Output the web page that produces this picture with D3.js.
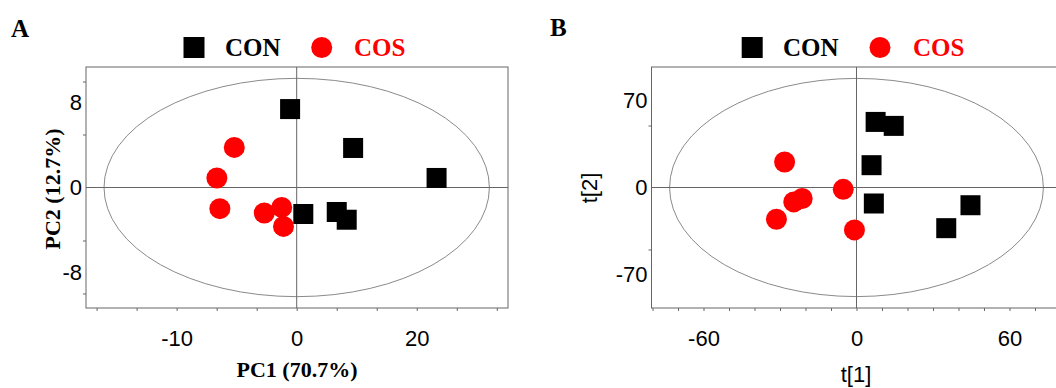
<!DOCTYPE html>
<html>
<head>
<meta charset="utf-8">
<script src="https://cdn.jsdelivr.net/npm/d3@7"></script>
<style>
  body { margin: 0; background: #fff; overflow: hidden; }
  svg { display: block; }
</style>
</head>
<body>
<svg id="chart" width="1056" height="388"></svg>
<script>
// Panel A : PCA scores
const conA = [[-1.1, 7.4], [9.4, 3.73], [23.3, 0.9], [1.1, -2.5], [6.67, -2.31], [8.33, -3.04]];
const cosA = [[-10.4, 3.78], [-13.3, 0.9], [-12.8, -2.0], [-5.4, -2.41], [-2.5, -1.88], [-2.2, -3.67]];
const xTickPosA = [-20, 0, 20];
const xTickLabelsA = ["-10", "0", "20"];
const yTickPosA = [8, 0, -8];
const yTickLabelsA = ["8", "0", "-8"];
const ellipseA = [32.1, 10.3];

// Panel B : t[1] / t[2] scores
const conB = [[7.5, 52.9], [14.6, 49.7], [5.9, 18.0], [6.8, -12.9], [44.7, -14.3], [35.2, -32.8]];
const cosB = [[-28.2, 20.6], [-5.2, -1.5], [-21.3, -8.9], [-24.6, -11.6], [-31.4, -25.6], [-0.8, -34.2]];
const xTickPosB = [-60, 0, 60];
const xTickLabelsB = ["-60", "0", "60"];
const yTickPosB = [70, 0, -70];
const yTickLabelsB = ["70", "0", "-70"];
const ellipseB = [73.3, 88];

const serif = "'Times New Roman', 'Liberation Serif', serif";
const sans = "Arial, 'Liberation Sans', sans-serif";

const svg = d3.select("#chart");

function panel(o) {
  const g = svg.append("g").attr("transform", `translate(${o.left},${o.top})`);
  const x = d3.scaleLinear().domain(o.xDomain).range([0, o.w]);
  const y = d3.scaleLinear().domain(o.yDomain).range([o.h, 0]);

  // ellipse (Hotelling T2)
  g.append("ellipse")
    .attr("cx", x(0)).attr("cy", y(0))
    .attr("rx", x(o.ell[0]) - x(0)).attr("ry", y(0) - y(o.ell[1]))
    .attr("fill", "none").attr("stroke", "#8a8a8a").attr("stroke-width", 1);

  // zero lines
  g.append("line").attr("x1", x(0)).attr("x2", x(0)).attr("y1", 0).attr("y2", o.h)
    .attr("stroke", "#666").attr("stroke-width", 1);
  g.append("line").attr("x1", 0).attr("x2", o.w).attr("y1", y(0)).attr("y2", y(0))
    .attr("stroke", "#666").attr("stroke-width", 1);

  // frame
  g.append("rect").attr("width", o.w).attr("height", o.h)
    .attr("fill", "none").attr("stroke", "#666").attr("stroke-width", 1);

  // minor ticks
  const xa = g.append("g").attr("transform", `translate(0,${o.h})`)
    .call(d3.axisBottom(x).tickValues(o.xMinor).tickSize(3).tickFormat(""));
  const ya = g.append("g")
    .call(d3.axisLeft(y).tickValues(o.yMinor).tickSize(3).tickFormat(""));
  [xa, ya].forEach(a => {
    a.select(".domain").remove();
    a.selectAll("line").attr("stroke", "#666");
  });

  // labels
  const xl = g.append("g").attr("transform", `translate(0,${o.h})`)
    .call(d3.axisBottom(x).tickValues(o.xTicks).tickSize(0).tickPadding(22)
      .tickFormat((d, i) => o.xLabels[i]));
  const yl = g.append("g")
    .call(d3.axisLeft(y).tickValues(o.yTicks).tickSize(0).tickPadding(4)
      .tickFormat((d, i) => o.yLabels[i]));
  [xl, yl].forEach(a => {
    a.select(".domain").remove();
    a.selectAll("text").attr("font-family", sans).attr("font-size", 22).attr("fill", "#000");
  });

  // points
  const s = 20;
  g.selectAll("rect.con").data(o.con).enter().append("rect")
    .attr("class", "con")
    .attr("x", d => x(d[0]) - s / 2).attr("y", d => y(d[1]) - s / 2)
    .attr("width", s).attr("height", s).attr("fill", "#000");
  g.selectAll("circle.cos").data(o.cos).enter().append("circle")
    .attr("class", "cos")
    .attr("cx", d => x(d[0])).attr("cy", d => y(d[1])).attr("r", 10.5)
    .attr("fill", "#ff0000");

  return { g, x, y };
}

// panel A
panel({
  left: 86, top: 67, w: 422, h: 241,
  xDomain: [-35.1, 35.2], yDomain: [-11.37, 11.37],
  xMinor: d3.range(-5, 6).map(k => k * 20 / 3), yMinor: [-10, -5, 5, 10],
  xTicks: xTickPosA, xLabels: xTickLabelsA, yTicks: yTickPosA, yLabels: yTickLabelsA,
  con: conA, cos: cosA, ell: ellipseA
});

// panel B
panel({
  left: 651.5, top: 67, w: 410, h: 241,
  xDomain: [-80.4, 80.4], yDomain: [-97.2, 97.2],
  xMinor: d3.range(-8, 9).map(k => k * 10), yMinor: [-50, 50],
  xTicks: xTickPosB, xLabels: xTickLabelsB, yTicks: yTickPosB, yLabels: yTickLabelsB,
  con: conB, cos: cosB, ell: ellipseB
});

// panel letters
svg.append("text").attr("x", 11).attr("y", 37).text("A")
  .attr("font-family", serif).attr("font-weight", "bold").attr("font-size", 25);
svg.append("text").attr("x", 550).attr("y", 36).text("B")
  .attr("font-family", serif).attr("font-weight", "bold").attr("font-size", 25);

// legends
function legend(sqX, conX, circX, cosX) {
  svg.append("rect").attr("x", sqX - 10).attr("y", 37).attr("width", 21).attr("height", 21).attr("fill", "#000");
  svg.append("text").attr("x", conX).attr("y", 56).text("CON")
    .attr("font-family", serif).attr("font-weight", "bold").attr("font-size", 25).attr("fill", "#000");
  svg.append("circle").attr("cx", circX).attr("cy", 47.5).attr("r", 10.5).attr("fill", "#ff0000");
  svg.append("text").attr("x", cosX).attr("y", 56).text("COS")
    .attr("font-family", serif).attr("font-weight", "bold").attr("font-size", 25).attr("fill", "#ff0000");
}
legend(193.5, 225, 321.7, 354);
legend(751.7, 783, 880, 913);

// axis titles
svg.append("text").attr("x", 297).attr("y", 377).attr("text-anchor", "middle").text("PC1 (70.7%)")
  .attr("font-family", serif).attr("font-weight", "bold").attr("font-size", 22);
svg.append("text").attr("transform", "translate(60,189) rotate(-90)").attr("text-anchor", "middle")
  .text("PC2 (12.7%)")
  .attr("font-family", serif).attr("font-weight", "bold").attr("font-size", 22);
svg.append("text").attr("x", 856).attr("y", 382).attr("text-anchor", "middle").text("t[1]")
  .attr("font-family", sans).attr("font-size", 22);
svg.append("text").attr("transform", "translate(597,188) rotate(-90)").attr("text-anchor", "middle")
  .text("t[2]")
  .attr("font-family", sans).attr("font-size", 22);
</script>
</body>
</html>
